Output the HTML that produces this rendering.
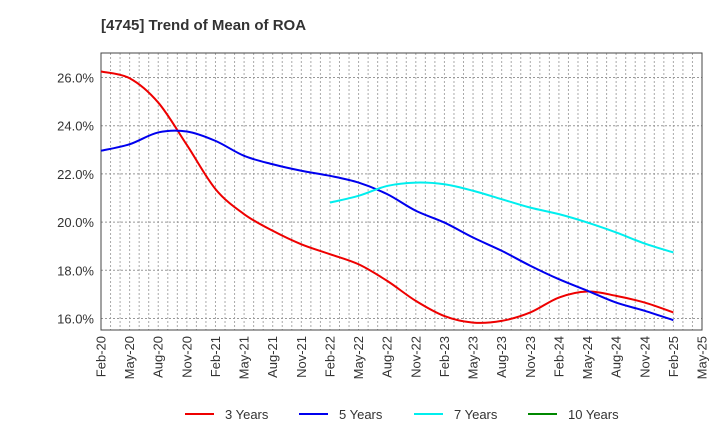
<!DOCTYPE html>
<html><head><meta charset="utf-8"><style>
body{margin:0;background:#fff;font-family:"Liberation Sans",sans-serif;}
svg text{font-family:"Liberation Sans",sans-serif;}
</style></head><body>
<svg id="c" width="720" height="440" xmlns="http://www.w3.org/2000/svg">
<text x="101" y="30" font-size="15" font-weight="bold" fill="#333">[4745]  Trend of Mean of ROA</text>
</svg>
<script>
const xLabels=["Feb-20","May-20","Aug-20","Nov-20","Feb-21","May-21","Aug-21","Nov-21","Feb-22","May-22","Aug-22","Nov-22","Feb-23","May-23","Aug-23","Nov-23","Feb-24","May-24","Aug-24","Nov-24","Feb-25","May-25"];
const yTicks=[16,18,20,22,24,26];
const s3=[26.25,25.97,24.96,23.2,21.37,20.33,19.64,19.08,18.67,18.25,17.56,16.73,16.1,15.83,15.9,16.25,16.87,17.12,16.94,16.66,16.25];
const s5=[22.96,23.23,23.72,23.76,23.37,22.75,22.4,22.13,21.92,21.64,21.16,20.47,19.98,19.36,18.81,18.19,17.63,17.15,16.66,16.32,15.93];
const s7=[null,null,null,null,null,null,null,null,20.81,21.09,21.5,21.64,21.57,21.3,20.95,20.6,20.33,19.98,19.57,19.11,18.74];
const s10=[];
const svg=document.getElementById('c');const NS='http://www.w3.org/2000/svg';
const L=101,R=702,T=53,B=330;
const xs=i=>L+(R-L)*i/(xLabels.length-1);
const ys=v=>77.5+(26-v)*24.1;
function mk(t,a,p){const e=document.createElementNS(NS,t);for(const k in a)e.setAttribute(k,a[k]);(p||svg).appendChild(e);return e;}
let e=mk('rect',{x:L,y:T,width:R-L,height:B-T,fill:'#fff',stroke:'none'});


for(let m=1;m<(xLabels.length-1)*3;m++){const x=L+(R-L)*m/((xLabels.length-1)*3);
e=mk('line',{x1:x,x2:x,y1:T,y2:B,stroke:'#aaa','stroke-dasharray':'2,2','stroke-width':1});

}
yTicks.forEach(v=>{const y=ys(v);
e=mk('line',{x1:L,x2:R,y1:y,y2:y,stroke:'#999','stroke-dasharray':'2,2'});


e=mk('text',{x:L-7,y:y+5,'font-size':13,'text-anchor':'end',fill:'#333'});e.textContent=v.toFixed(1)+'%';

});
xLabels.forEach((l,i)=>{const x=xs(i);
e=mk('text',{transform:`translate(${x+4.5},336) rotate(-90)`,'font-size':13,'text-anchor':'end',fill:'#333'});e.textContent=l;

});
e=mk('rect',{x:L,y:T,width:R-L,height:B-T,fill:'none',stroke:'#444'});


function path(data,col,name){const p=[];data.forEach((v,i)=>{if(v!=null)p.push([xs(i),ys(v)]);});if(p.length<2)return;
let d=`M${p[0][0]},${p[0][1]}`;for(let i=0;i<p.length-1;i++){const p0=p[Math.max(0,i-1)],p1=p[i],p2=p[i+1],p3=p[Math.min(p.length-1,i+2)];
d+=` C${p1[0]+(p2[0]-p0[0])/6},${p1[1]+(p2[1]-p0[1])/6} ${p2[0]-(p3[0]-p1[0])/6},${p2[1]-(p3[1]-p1[1])/6} ${p2[0]},${p2[1]}`;}
e=mk('path',{d:d,fill:'none',stroke:col,'stroke-width':2});

}
path(s3,'#e00','line-3-years');path(s5,'#00e','line-5-years');path(s7,'#0ee','line-7-years');path(s10,'#080','line-10-years');
[['3 Years','#e00',185],['5 Years','#00e',299],['7 Years','#0ee',414],['10 Years','#080',528]].forEach(([t,c,x])=>{
const g=mk('g',{});


mk('line',{x1:x,x2:x+29,y1:414,y2:414,stroke:c,'stroke-width':2},g);
const tx=mk('text',{x:x+40,y:419,'font-size':13,fill:'#333'},g);tx.textContent=t;});
</script>
</body></html>
